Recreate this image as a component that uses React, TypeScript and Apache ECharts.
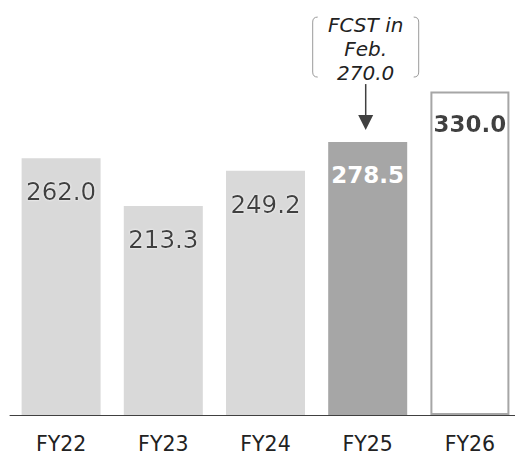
import React, { useEffect, useRef } from "react";
import * as echarts from "echarts";

const categories = ["FY22", "FY23", "FY24", "FY25", "FY26"];
const values = [262.0, 213.3, 249.2, 278.5, 330.0];
const annotationLines = ["FCST in", "Feb.", "270.0"];
const annotatedCategory = "FY25";

const FONT = "DejaVu Sans, Verdana, sans-serif";

echarts.graphic.registerShape(
  "bracketL",
  echarts.graphic.extendPath("M5,0 Q0,0 0,5 L0,55 Q0,60 5,60", {}) as any
);
echarts.graphic.registerShape(
  "bracketR",
  echarts.graphic.extendPath("M0,0 Q5,0 5,5 L5,55 Q5,60 0,60", {}) as any
);

export default function App() {
  const ref = useRef<HTMLDivElement>(null);
  useEffect(() => {
    if (!ref.current) return;
    const chart = echarts.init(ref.current, undefined, { renderer: "svg" });
    const baseLabel = {
      show: true,
      position: "insideTop",
      distance: 21,
      fontFamily: FONT,
      fontSize: 24.5,
      color: "#404040",
      textShadowColor: "#ffffff",
      textShadowBlur: 2,
      formatter: (p: any) => p.value.toFixed(1),
    };
    const data = values.map((v, i) => {
      if (i === 3) {
        return {
          value: v,
          itemStyle: { color: "#a6a6a6" },
          label: { ...baseLabel, color: "#ffffff", fontWeight: "bold", textShadowBlur: 0, fontSize: 23 },
        };
      }
      if (i === 4) {
        return {
          value: v,
          itemStyle: { color: "#ffffff", borderColor: "#a6a6a6", borderWidth: 2 },
          label: { ...baseLabel, fontWeight: "bold", fontSize: 23 },
        };
      }
      return { value: v, itemStyle: { color: "#d9d9d9" } };
    });
    chart.setOption({
      animation: false,
      grid: { left: 10, width: 511, top: 23, height: 392, outerBoundsMode: "none", containLabel: false },
      xAxis: {
        type: "category",
        data: categories,
        axisLine: { lineStyle: { color: "#404040", width: 1 } },
        axisTick: { show: false },
        axisLabel: { fontFamily: FONT, fontSize: 20.5, color: "#222222", margin: 18 },
      },
      yAxis: { type: "value", min: 0, max: 400, show: false, splitLine: { show: false } },
      series: [
        {
          type: "bar",
          data,
          barWidth: 79,
          label: baseLabel,
        },
      ],
    });
    const idx = categories.indexOf(annotatedCategory);
    const [cx0, cy] = chart.convertToPixel({ gridIndex: 0 }, [idx, values[idx]]) as number[];
    const cx = cx0 - 2;
    chart.setOption({
      graphic: [
        {
          type: "text",
          x: cx,
          y: cy - 93,
          style: {
            text: annotationLines.join("\n"),
            font: `italic 20px ${FONT}`,
            fill: "#222222",
            align: "center",
            verticalAlign: "middle",
            lineHeight: 24,
          },
        },
        {
          type: "bracketL",
          x: cx - 53,
          y: cy - 125,
          style: { stroke: "#9a9a9a", fill: "none", lineWidth: 1 },
        },
        {
          type: "bracketR",
          x: cx + 48,
          y: cy - 125,
          style: { stroke: "#9a9a9a", fill: "none", lineWidth: 1 },
        },
        {
          type: "line",
          shape: { x1: cx, y1: cy - 58, x2: cx, y2: cy - 26 },
          style: { stroke: "#404040", lineWidth: 1.5 },
        },
        {
          type: "polygon",
          shape: { points: [[cx - 7.5, cy - 27], [cx + 7.5, cy - 27], [cx, cy - 12]] },
          style: { fill: "#404040" },
        },
      ],
    });
    return () => chart.dispose();
  }, []);
  return (
    <div
      ref={ref}
      style={{ position: "absolute", left: 0, top: 0, width: 515, height: 455, background: "#fff", overflow: "hidden" }}
    />
  );
}
